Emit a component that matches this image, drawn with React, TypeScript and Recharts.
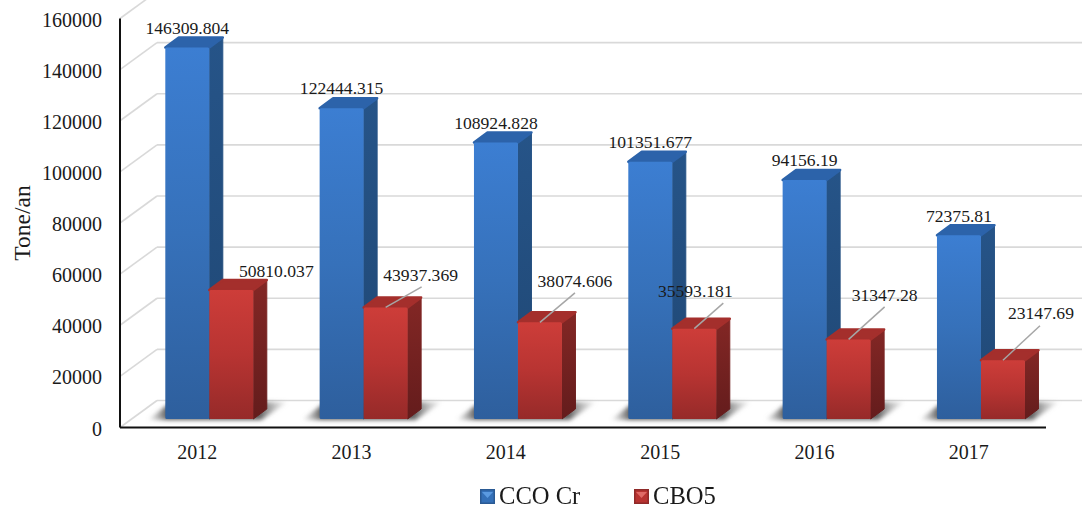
import { BarChart, Bar, XAxis, YAxis, CartesianGrid, Legend, LabelList } from "recharts";

const YEARS = ["2012", "2013", "2014", "2015", "2016", "2017"];
const CCO_CR = [146309.804, 122444.315, 108924.828, 101351.677, 94156.19, 72375.81];
const CBO5 = [50810.037, 43937.369, 38074.606, 35593.181, 31347.28, 23147.69];
const Y_TICKS = [0, 20000, 40000, 60000, 80000, 100000, 120000, 140000, 160000];

const chartData = YEARS.map((year, i) => ({ year, "CCO Cr": CCO_CR[i], CBO5: CBO5[i] }));

const FONT = "'Liberation Serif', serif";
const TEXT = "#1a1a1a";

// 3D look: the bars stand a bit behind the axis plane
const SHIFT_X = 12.3;
const SHIFT_Y = -8.5;
const SCALE = 0.993;
const DEPTH_X = 13.5;
const DEPTH_Y = -10;

// where the wall sits relative to the axes
const WALL_X = 37;
const WALL_Y = -27;

// red labels are pulled off the bar by hand, [dx, dy] from top centre of the front face
const RED_LABEL_OFFSETS = [
  [45, -19],
  [35, -33],
  [35, -42],
  [1, -38],
  [36, -45],
  [38, -47],
];
// leader end, dx from top centre of the front face (null = no leader)
const RED_LEADER_DX = [null, 36, 35, 29, 36, 37];

function Bar3D({ x, y, width, height, front, side, top }: any) {
  const x0 = x + SHIFT_X;
  const y1 = y + height + SHIFT_Y;
  const y0 = y1 - height * SCALE;
  const x1 = x0 + width;
  return (
    <g>
      <polygon
        points={`${x1},${y0} ${x1 + DEPTH_X},${y0 + DEPTH_Y} ${x1 + DEPTH_X},${y1 + DEPTH_Y} ${x1},${y1}`}
        fill={`url(#${side})`}
        stroke={`url(#${side})`}
        strokeWidth={1}
        strokeLinejoin="round"
      />
      <polygon
        points={`${x0},${y0} ${x0 + DEPTH_X},${y0 + DEPTH_Y} ${x1 + DEPTH_X},${y0 + DEPTH_Y} ${x1},${y0}`}
        fill={top}
        stroke={top}
        strokeWidth={2.5}
        strokeLinejoin="round"
      />
      <rect x={x0} y={y0} width={width} height={y1 - y0} rx={1.5} fill={`url(#${front})`} />
    </g>
  );
}

function BlueBar(props: any) {
  const { x, y, width, height } = props;
  const x0 = x + SHIFT_X;
  const y1 = y + height + SHIFT_Y;
  // floor shadow of the whole pair goes here, blue is painted first
  const shadow = [
    [x0 - 18, y1 + 1],
    [x0 + 2, y1 - 14],
    [x0 + 2 * width + 12, y1 - 17],
    [x0 + 2 * width + 34, y1 - 17],
    [x0 + 2 * width + 8, y1 + 1],
  ];
  return (
    <g>
      <polygon points={shadow.map((p) => p.join(",")).join(" ")} fill="url(#floorShadow)" filter="url(#soft)" />
      <Bar3D {...props} front="blueFront" side="blueSide" top="#2c63aa" />
    </g>
  );
}

function RedBar(props: any) {
  return <Bar3D {...props} front="redFront" side="redSide" top="#a42f2c" />;
}

function boxOf(props: any) {
  const b = props.viewBox ?? props;
  const x0 = b.x + SHIFT_X;
  const top = b.y + b.height + SHIFT_Y - b.height * SCALE;
  return { cx: x0 + b.width / 2, top };
}

function BlueLabel(props: any) {
  const { cx, top } = boxOf(props);
  return (
    <text x={cx} y={top - 20} dy="0.355em" textAnchor="middle" fontFamily={FONT} fontSize={17.6} fill={TEXT}>
      {props.value}
    </text>
  );
}

function RedLabel(props: any) {
  const { cx, top } = boxOf(props);
  const [dx, dy] = RED_LABEL_OFFSETS[props.index];
  const leader = RED_LEADER_DX[props.index];
  return (
    <g>
      {leader != null && (
        <line x1={cx} y1={top} x2={cx + leader} y2={top + dy + 12.5} stroke="#a6a6a6" strokeWidth={1.5} />
      )}
      <text x={cx + dx} y={top + dy} dy="0.355em" textAnchor="middle" fontFamily={FONT} fontSize={17.6} fill={TEXT}>
        {props.value}
      </text>
    </g>
  );
}

// back wall gridline plus the diagonal running to the axis
function WallLine(props: any) {
  const { x1, x2, y1, key } = props;
  return (
    <g key={key ?? y1}>
      <line x1={x1} y1={y1} x2={x1 + WALL_X} y2={y1 + WALL_Y} stroke="#d9d9d9" strokeWidth={1.6} />
      <line x1={x1 + WALL_X} y1={y1 + WALL_Y} x2={x2 + WALL_X} y2={y1 + WALL_Y} stroke="#d9d9d9" strokeWidth={1.6} />
    </g>
  );
}

function LegendKey({ color, dark, light }: any) {
  return (
    <svg width={15} height={15} style={{ display: "block" }}>
      <rect width={15} height={15} fill={dark} />
      <rect x={1.5} y={1.5} width={12} height={12} fill={color} />
      <polygon points="2,3 13,3 7.5,9" fill={light} />
    </svg>
  );
}

function ChartLegend({ payload }: any) {
  const keys: any = {
    "CCO Cr": { color: "#3470b8", dark: "#2a5a94", light: "#5b9ae0", left: 480, textLeft: 499 },
    CBO5: { color: "#b83331", dark: "#8f2a29", light: "#e06a66", left: 634, textLeft: 653 },
  };
  return (
    <div style={{ position: "relative", height: 0, width: 1082 }}>
      {(payload ?? []).map((p: any) => {
        const k = keys[p.value];
        return (
          <div key={p.value}>
            <div style={{ position: "absolute", left: k.left, top: 11 }}>
              <LegendKey {...k} />
            </div>
            <div
              style={{
                position: "absolute",
                left: k.textLeft,
                top: 4,
                fontFamily: FONT,
                fontSize: 24.6,
                lineHeight: "28px",
                color: TEXT,
                whiteSpace: "nowrap",
              }}
            >
              {p.value}
            </div>
          </div>
        );
      })}
    </div>
  );
}

export default function App() {
  return (
    <div style={{ position: "absolute", left: 0, top: 0, width: 1082, height: 509, background: "#fff", filter: "blur(0.4px)" }}>
      <BarChart
        width={1082}
        height={509}
        data={chartData}
        barSize={44}
        barGap={0}
        margin={{ top: 18.5, right: 36, bottom: 0, left: 0 }}
      >
        <defs>
          <linearGradient id="blueFront" x1="0" y1="0" x2="0" y2="1">
            <stop offset="0%" stopColor="#3c7ed2" />
            <stop offset="50%" stopColor="#3671ba" />
            <stop offset="100%" stopColor="#2e5f9d" />
          </linearGradient>
          <linearGradient id="blueSide" x1="0" y1="0" x2="0" y2="1">
            <stop offset="0%" stopColor="#265488" />
            <stop offset="100%" stopColor="#1f4774" />
          </linearGradient>
          <linearGradient id="redFront" x1="0" y1="0" x2="0" y2="1">
            <stop offset="0%" stopColor="#cd3d39" />
            <stop offset="50%" stopColor="#b83432" />
            <stop offset="100%" stopColor="#962a29" />
          </linearGradient>
          <linearGradient id="redSide" x1="0" y1="0" x2="0" y2="1">
            <stop offset="0%" stopColor="#832725" />
            <stop offset="100%" stopColor="#641c1c" />
          </linearGradient>
          <linearGradient id="floorShadow" x1="0" y1="0" x2="1" y2="0">
            <stop offset="0%" stopColor="#8c8c8c" stopOpacity={0} />
            <stop offset="14%" stopColor="#5e5e5e" stopOpacity={1} />
            <stop offset="80%" stopColor="#5e5e5e" stopOpacity={1} />
            <stop offset="100%" stopColor="#bdbdbd" stopOpacity={0.2} />
          </linearGradient>
          <filter id="soft" x="-20%" y="-50%" width="140%" height="200%">
            <feGaussianBlur stdDeviation="2" />
          </filter>
        </defs>
        <CartesianGrid vertical={false} horizontal={WallLine} />
        <XAxis
          dataKey="year"
          height={81.5}
          axisLine={{ stroke: "#111", strokeWidth: 2 }}
          tickLine={false}
          tickSize={0}
          tickMargin={17}
          tick={{ fill: TEXT, fontSize: 20, fontFamily: FONT }}
        />
        <YAxis
          width={120}
          domain={[0, 160000]}
          ticks={Y_TICKS}
          interval={0}
          axisLine={{ stroke: "#111", strokeWidth: 2 }}
          tickLine={false}
          tickSize={0}
          tickMargin={18}
          tick={{ fill: TEXT, fontSize: 20, fontFamily: FONT, dy: 1 }}
          label={{
            value: "Tone/an",
            angle: -90,
            position: "insideLeft",
            offset: 22,
            style: { fill: TEXT, fontSize: 23.5, fontFamily: FONT, textAnchor: "middle" },
          }}
        />
        <Legend
          content={<ChartLegend />}
          wrapperStyle={{ position: "absolute", left: 0, top: 478, width: 1082, height: 0 }}
        />
        <Bar dataKey="CCO Cr" name="CCO Cr" fill="#3671ba" shape={BlueBar} isAnimationActive={false}>
          <LabelList dataKey="CCO Cr" content={BlueLabel} />
        </Bar>
        <Bar dataKey="CBO5" name="CBO5" fill="#b83432" shape={RedBar} isAnimationActive={false}>
          <LabelList dataKey="CBO5" content={RedLabel} />
        </Bar>
      </BarChart>
    </div>
  );
}
